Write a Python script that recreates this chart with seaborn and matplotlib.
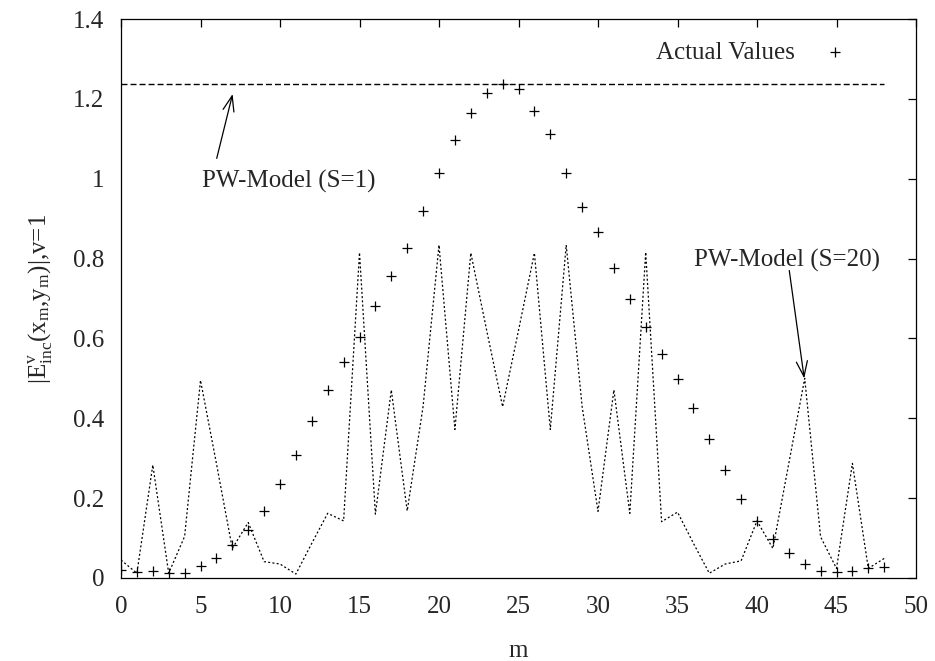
import numpy as np
import pandas as pd
import matplotlib
matplotlib.use("Agg")
import matplotlib.pyplot as plt
import seaborn as sns

# ---- data ----
m_values = list(range(49))
actual_values = [0.020, 0.016, 0.018, 0.013, 0.013, 0.030, 0.049, 0.083, 0.120, 0.168,
                 0.235, 0.309, 0.392, 0.472, 0.540, 0.603, 0.680, 0.757, 0.826, 0.919,
                 1.015, 1.097, 1.165, 1.215, 1.237, 1.225, 1.170, 1.111, 1.015, 0.930,
                 0.867, 0.776, 0.700, 0.629, 0.560, 0.498, 0.427, 0.347, 0.270, 0.197,
                 0.143, 0.097, 0.062, 0.034, 0.018, 0.014, 0.017, 0.026, 0.028]
pw_s20 = [0.045, 0.012, 0.283, 0.012, 0.104, 0.495, 0.287, 0.074, 0.139, 0.041,
          0.035, 0.010, 0.087, 0.162, 0.143, 0.815, 0.160, 0.471, 0.168, 0.430,
          0.834, 0.372, 0.814, 0.620, 0.429, 0.620, 0.814, 0.372, 0.834, 0.430,
          0.167, 0.471, 0.162, 0.816, 0.141, 0.165, 0.087, 0.012, 0.035, 0.043,
          0.143, 0.074, 0.287, 0.500, 0.103, 0.024, 0.287, 0.024, 0.049]
pw_s1_value = 1.237
pw_s1 = [pw_s1_value] * len(m_values)
x_ticks = list(range(0, 51, 5))
y_ticks = [0, 0.2, 0.4, 0.6, 0.8, 1.0, 1.2, 1.4]
y_tick_labels = ["0", "0.2", "0.4", "0.6", "0.8", "1", "1.2", "1.4"]

df = pd.DataFrame({"m": m_values, "actual": actual_values, "s20": pw_s20, "s1": pw_s1})

# ---- style ----
sns.set_style("white")
plt.rcParams["font.family"] = ["Liberation Serif", "DejaVu Serif"]
plt.rcParams["mathtext.fontset"] = "custom"
plt.rcParams["mathtext.rm"] = "Liberation Serif"
plt.rcParams["mathtext.it"] = "Liberation Serif:italic"
FS = 18

fig = plt.figure(figsize=(9.35, 6.61), dpi=100)
ax = fig.add_axes([121 / 935, 1 - 578 / 661, 795 / 935, 559 / 661])

sns.lineplot(data=df, x="m", y="s1", ax=ax, color="black", lw=1.0,
             linestyle=(0, (4.3, 2.2)), legend=False)
sns.lineplot(data=df, x="m", y="s20", ax=ax, color="black", lw=0.9,
             linestyle=(0, (1.6, 1.8)), legend=False)
sns.scatterplot(data=df, x="m", y="actual", ax=ax, marker="+", color="black",
                s=60, linewidth=0.9, label="Actual Values", zorder=3)

ax.set_xlim(0, 50)
ax.set_ylim(0, 1.4)
ax.set_xticks(x_ticks)
ax.set_xticklabels([str(t) for t in x_ticks])
ax.set_yticks(y_ticks)
ax.set_yticklabels(y_tick_labels)
ax.tick_params(axis="both", direction="in", length=6, width=0.9, color="black",
               labelsize=FS, top=True, right=True)
ax.tick_params(axis="x", pad=13)
ax.tick_params(axis="y", pad=12)
for sp in ax.spines.values():
    sp.set_visible(True)
    sp.set_color("black")
    sp.set_linewidth(0.9)

ax.set_xlabel("m", fontsize=FS, labelpad=16)
ax.set_ylabel(r"$\mathrm{|E^{v}_{inc}(x_m{,}y_m)|}$,v=1", fontsize=FS, labelpad=14)

leg = ax.legend(loc="upper right", bbox_to_anchor=(0.958, 1.0), frameon=False,
                markerfirst=False, fontsize=FS, handlelength=2.0, handletextpad=0.6,
                scatterpoints=1)

# annotations
ax.text(5.07, 0.977, "PW-Model (S=1)", fontsize=FS, ha="left", va="baseline")
ax.annotate("", xy=(7.02, 1.212), xytext=(6.02, 1.051),
            arrowprops=dict(arrowstyle="->,head_length=0.55,head_width=0.2",
                            color="black", lw=0.9, shrinkA=0, shrinkB=0,
                            mutation_scale=20))
ax.text(36.04, 0.78, "PW-Model (S=20)", fontsize=FS, ha="left", va="baseline")
ax.annotate("", xy=(42.97, 0.50), xytext=(42.03, 0.770),
            arrowprops=dict(arrowstyle="->,head_length=0.55,head_width=0.2",
                            color="black", lw=0.9, shrinkA=0, shrinkB=0,
                            mutation_scale=20))

fig.savefig("out.png", dpi=100)
